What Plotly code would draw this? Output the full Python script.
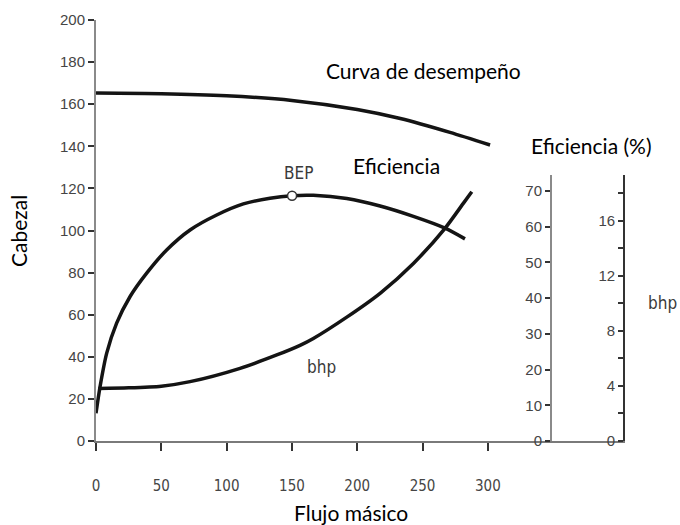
import plotly.graph_objects as go

# ---- data ----
head_q = [0, 50, 100, 150, 200, 233, 271, 301.7]
head_h = [165.3, 165.0, 164.0, 161.8, 157.5, 153.2, 146.6, 140.6]

eff_q = [0, 3.1, 8.2, 15.8, 26.0, 38.8, 54.1, 72.0, 92.4, 112.8, 133.2, 150.1, 166.4, 192.0, 217.5, 243.0, 267.2, 282.5]
eff_v = [7.8, 15.2, 24.6, 33.0, 40.4, 47.0, 53.5, 59.1, 63.3, 66.4, 68.0, 68.7, 68.8, 67.9, 65.8, 62.9, 59.6, 56.6]

bhp_q = [1.8, 25, 50, 72, 110.3, 138.4, 156.2, 166.4, 192.0, 217.5, 243.0, 267.2, 281.2, 287.7]
bhp_v = [3.82, 3.86, 3.98, 4.31, 5.28, 6.25, 6.95, 7.45, 9.0, 10.73, 12.9, 15.45, 17.26, 18.1]

bep_q = [150.1]
bep_v = [68.7]

x_ticks = [0, 50, 100, 150, 200, 250, 300]
head_ticks = [0, 20, 40, 60, 80, 100, 120, 140, 160, 180, 200]
eff_ticks = [0, 10, 20, 30, 40, 50, 60, 70]
bhp_ticks = [0, 2, 4, 6, 8, 10, 12, 14, 16, 18]
bhp_text = ["0", "", "4", "", "8", "", "12", "", "16", ""]

LINE = "#141414"
TXT = "Lato, 'Open Sans', sans-serif"
TSIZE = 21
TICKF = dict(family="'Liberation Sans', Arial, sans-serif", size=15, color="#454545")
NARROW = dict(family="'Liberation Sans Narrow', 'DejaVu Sans Condensed', sans-serif", size=15, color="#454545")

fig = go.Figure()
for xs, ys, ya in [(head_q, head_h, "y"), (eff_q, eff_v, "y2"), (bhp_q, bhp_v, "y3")]:
    fig.add_trace(go.Scatter(x=xs, y=ys, mode="lines",
                             line=dict(color=LINE, width=3.5, shape="spline", smoothing=0.7),
                             xaxis="x", yaxis=ya, showlegend=False, hoverinfo="skip"))
fig.add_trace(go.Scatter(x=bep_q, y=bep_v, mode="markers",
                         marker=dict(size=9, color="white", line=dict(color="#333", width=1.5)),
                         xaxis="x", yaxis="y2", showlegend=False, hoverinfo="skip"))

dom_top = 0.6318

fig.update_layout(
    width=680, height=525,
    margin=dict(l=96, r=55, t=20, b=84),
    paper_bgcolor="white", plot_bgcolor="rgba(0,0,0,0)",
    xaxis=dict(range=[0, 405], domain=[0, 1], anchor="y", showgrid=False, zeroline=False,
               showline=True, linecolor="#7a7a7a", linewidth=2,
               tickvals=x_ticks, ticks="outside", ticklen=8, tickwidth=1.5, tickcolor="#333",
               tickfont=NARROW, ticklabelstandoff=22),
    yaxis=dict(range=[0, 200], domain=[0, 1], anchor="x", showgrid=False, zeroline=False,
               showline=True, linecolor="#8a8a8a", linewidth=2,
               tickvals=head_ticks, ticks="outside", ticklen=6, tickwidth=1.5, tickcolor="#333",
               tickfont=TICKF),
    yaxis2=dict(range=[0, 74.49], domain=[0, dom_top], anchor="free", position=0.8601, side="left",
                showgrid=False, zeroline=False, showline=True, linecolor="#8a8a8a", linewidth=2,
                tickvals=eff_ticks, ticks="outside", ticklen=5, tickwidth=1.5, tickcolor="#333",
                tickfont=TICKF),
    yaxis3=dict(range=[0, 19.32], domain=[0, dom_top], anchor="free", position=0.998, side="left",
                showgrid=False, zeroline=False, showline=True, linecolor="#333", linewidth=1.5,
                tickvals=bhp_ticks, ticktext=bhp_text, ticks="outside", ticklen=5, tickwidth=1.5,
                tickcolor="#333", tickfont=TICKF),
)

ann = [
    dict(text="Curva de desempeño", x=250.4, y=175.8, xref="x", yref="y", font=dict(family=TXT, size=TSIZE, color="black")),
    dict(text="Eficiencia", x=229.7, y=131.1, xref="x", yref="y", font=dict(family=TXT, size=TSIZE, color="black")),
    dict(text="BEP", x=154.7, y=127.3, xref="x", yref="y", font=NARROW | dict(size=17, color="#3a3a3a")),
    dict(text="bhp", x=173, y=35.2, xref="x", yref="y", font=NARROW | dict(size=17, color="#3a3a3a")),
    dict(text="Eficiencia (%)", x=0.9376, y=0.703, xref="paper", yref="paper", font=dict(family=TXT, size=TSIZE, color="black")),
    dict(text="bhp", x=1.070, y=0.328, xref="paper", yref="paper", font=NARROW | dict(size=17, color="#3a3a3a")),
    dict(text="Cabezal", x=-0.1474, y=0.4988, xref="paper", yref="paper", textangle=-90,
         font=dict(family=TXT, size=TSIZE, color="black")),
    dict(text="Flujo másico", x=0.482, y=-0.171, xref="paper", yref="paper", font=dict(family=TXT, size=TSIZE, color="black")),
]
for a in ann:
    a.update(showarrow=False, xanchor="center", yanchor="middle")
fig.update_layout(annotations=ann)

fig.write_html("out.html")
